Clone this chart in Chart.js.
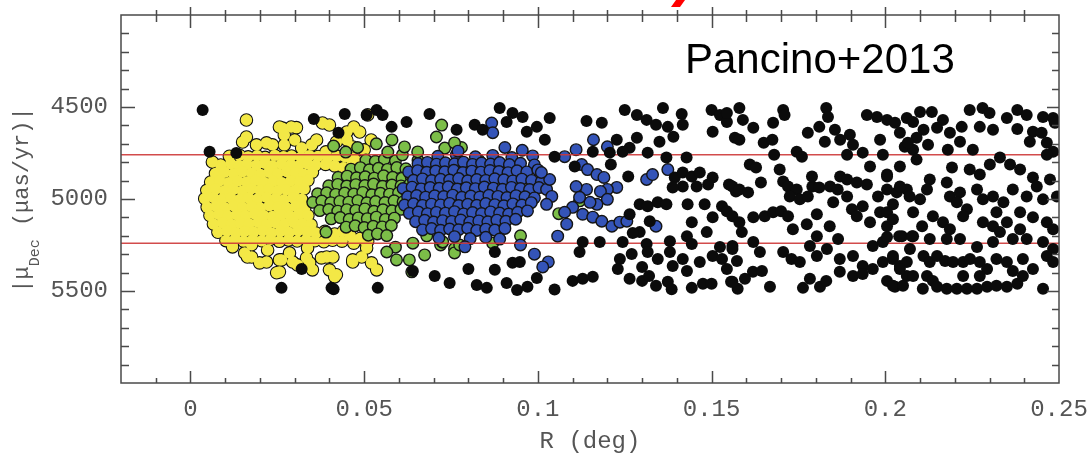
<!DOCTYPE html>
<html>
<head>
<meta charset="utf-8">
<script src="https://cdn.jsdelivr.net/npm/chart.js@4"></script>
<style>
  html, body { margin: 0; padding: 0; background: #fff; }
  #wrap { width: 1090px; height: 455px; position: relative; }
</style>
</head>
<body>
<div id="wrap"><canvas id="plot"></canvas></div>
<script>
// 軸の範囲と目盛り
const rRange = [-0.02, 0.25];
const muRange = [4000, 6000];
const rTicks = [0, 0.05, 0.1, 0.15, 0.2, 0.25];
const muTicks = [4500, 5000, 5500];
// 選択範囲の赤線
const cutLines = [4760, 5240];

// 黒: 視野全体の星 [R(deg), |mu_Dec| (mas/yr)]
const blackStars = [
  [0.0035,4516],[0.0055,4743],[0.0132,4750],[0.0355,4565],[0.0444,4538],[0.0426,4640],[0.0507,4543],
  [0.0536,4516],[0.0553,4543],[0.0579,4608],[0.0622,4581],[0.0688,4538],[0.0766,4624],[0.0818,4597],
  [0.0841,4624],[0.0890,4505],[0.0910,4581],[0.0927,4532],[0.0956,4554],[0.0968,4635],[0.0997,4608],
  [0.0262,5483],[0.0320,5380],[0.0406,5483],[0.0412,5490],[0.0539,5483],[0.0640,5391],[0.0703,5418],
  [0.0746,5456],[0.0824,5467],[0.0800,5380],[0.0853,5483],[0.0876,5385],[0.0876,5288],[0.0910,5456],
  [0.0927,5347],[0.0948,5342],[0.0940,5494],[0.0970,5477],[0.0997,5429],
  [0.1034,4560],[0.1140,4576],[0.1184,4586],[0.1250,4516],[0.1285,4543],[0.1313,4570],[0.1360,4505],
  [0.1340,4597],[0.1414,4538],[0.1417,4597],[0.1374,4608],[0.1500,4516],[0.1524,4543],[0.1544,4581],
  [0.1503,4635],[0.1567,4667],[0.1390,4662],[0.1350,4689],[0.1285,4667],[0.1227,4678],[0.1264,4721],
  [0.1244,4743],[0.1207,4748],[0.1158,4743],[0.1048,4770],[0.1316,4748],[0.1370,4775],[0.1428,4775],
  [0.1020,4678],[0.1260,4878],[0.1210,4813],[0.1106,4824],[0.1394,4883],[0.1417,4856],[0.1443,4878],
  [0.1466,4856],[0.1503,4883],[0.1490,4921],[0.1457,4932],[0.1417,4932],[0.1388,4937],[0.1550,4921],
  [0.1570,4959],[0.1293,5029],[0.1316,5040],[0.1345,5018],[0.1370,5029],[0.1431,5029],[0.1480,5029],
  [0.1503,5099],[0.1530,5040],[0.1544,5067],[0.1560,5094],[0.1264,5083],[0.1322,5121],[0.1443,5126],
  [0.1486,5180],[0.1429,5202],[0.1293,5180],[0.1273,5185],
  [0.1129,5234],[0.1178,5234],[0.1244,5234],[0.1313,5245],[0.1380,5229],[0.1443,5245],[0.1524,5261],
  [0.1560,5256],[0.1120,5288],[0.1236,5326],[0.1270,5299],[0.1316,5288],[0.1345,5326],[0.1380,5288],
  [0.1417,5326],[0.1466,5342],[0.1503,5310],[0.1530,5326],[0.1230,5380],[0.1300,5369],[0.1388,5364],
  [0.1429,5391],[0.1544,5380],[0.1100,5445],[0.1129,5434],[0.1158,5423],[0.1048,5492],[0.1264,5434],
  [0.1300,5445],[0.1320,5418],[0.1340,5472],[0.1374,5450],[0.1385,5490],[0.1443,5483],[0.1475,5461],
  [0.1500,5461],[0.1556,5450],[0.1575,5488],
  [0.1544,4532],[0.1580,4505],[0.1590,4570],[0.1580,4678],[0.1620,4613],[0.1650,4694],[0.1675,4678],
  [0.1677,4586],[0.1706,4516],[0.1710,4543],[0.1680,4759],[0.1745,4743],[0.1760,4770],[0.1777,4640],
  [0.1810,4608],[0.1830,4505],[0.1835,4554],[0.1826,4689],[0.1870,4678],[0.1855,4624],[0.1898,4651],
  [0.1907,4705],[0.1890,4759],[0.1947,4543],[0.1976,4554],[0.2005,4570],[0.2028,4586],[0.2062,4560],
  [0.2042,4640],[0.1985,4678],[0.1993,4759],[0.1935,4748],[0.2056,4716],[0.2080,4732],
  [0.1610,4813],[0.1628,4829],[0.1560,4932],[0.1580,4948],[0.1605,4964],[0.1642,4910],[0.1696,4840],
  [0.1706,4905],[0.1720,4932],[0.1745,4948],[0.1725,4986],[0.1754,5002],[0.1777,4986],[0.1790,4932],
  [0.1789,4878],[0.1810,4937],[0.1841,4932],[0.1870,4878],[0.1890,4894],[0.1918,4910],[0.1947,4921],
  [0.1863,4948],[0.1890,4986],[0.1850,5018],[0.1956,4824],[0.2005,4867],[0.2042,4824],[0.1979,4986],
  [0.2005,4948],[0.2033,4964],[0.2062,4948],[0.2022,5029],[0.1985,5072],[0.1935,5040],[0.1904,5056],
  [0.1918,5094],[0.1956,5126],[0.2005,5148],[0.2048,5202],[0.2080,5202],[0.1580,5126],[0.1587,5180],
  [0.1620,5099],[0.1653,5094],[0.1677,5072],[0.1700,5067],[0.1720,5094],[0.1734,5164],[0.1774,5137],
  [0.1803,5083],[0.1840,5148],[0.1864,5218],[0.1803,5202],
  [0.1560,5272],[0.1620,5234],[0.1639,5288],[0.1573,5337],[0.1706,5288],[0.1730,5326],[0.1754,5342],
  [0.1783,5256],[0.1803,5310],[0.1832,5272],[0.1619,5396],[0.1645,5391],[0.1596,5434],[0.1560,5450],
  [0.1668,5477],[0.1783,5434],[0.1763,5483],[0.1812,5477],[0.1830,5445],[0.1869,5326],[0.1907,5310],
  [0.1935,5364],[0.1869,5396],[0.1907,5418],[0.1935,5407],[0.1964,5380],[0.1993,5342],[0.2022,5326],
  [0.2042,5364],[0.2062,5418],[0.2005,5445],[0.2028,5477],[0.1964,5256],[0.1993,5234],[0.2071,5272],
  [0.2080,4581],[0.2100,4527],[0.2134,4527],[0.2166,4570],[0.2149,4613],[0.2110,4624],[0.2090,4667],
  [0.2065,4694],[0.2123,4705],[0.2186,4640],[0.2220,4608],[0.2243,4516],[0.2280,4505],[0.2300,4532],
  [0.2272,4608],[0.2310,4624],[0.2350,4560],[0.2380,4516],[0.2407,4543],[0.2454,4554],[0.2483,4560],
  [0.2488,4586],[0.2380,4619],[0.2425,4635],[0.2450,4640],[0.2416,4689],[0.2465,4694],[0.2483,4743],
  [0.2465,4759],[0.2215,4689],[0.2252,4732],[0.2180,4732],[0.2090,4786],[0.2192,4829],[0.2243,4840],
  [0.2301,4813],[0.2330,4775],[0.2359,4813],[0.2388,4840],[0.2425,4883],[0.2474,4894],[0.2494,4986],
  [0.2272,4867],[0.2128,4894],[0.2005,4878],[0.2042,4932],[0.2070,4986],[0.2100,5002],[0.2120,4948],
  [0.2177,4910],[0.2186,4986],[0.2215,4964],[0.2206,5018],[0.2235,5056],[0.2264,4948],[0.2281,5002],
  [0.2310,4986],[0.2340,5018],[0.2367,4948],[0.2407,4986],[0.2436,4932],[0.2454,5002],
  [0.2005,5072],[0.2022,5110],[0.2080,5072],[0.2137,5094],[0.2106,5148],[0.2166,5126],[0.2186,5164],
  [0.2224,5094],[0.2281,5126],[0.2310,5148],[0.2330,5180],[0.2350,5126],[0.2388,5164],[0.2425,5099],
  [0.2465,5126],[0.2483,5164],[0.2320,5072],[0.2388,5072],
  [0.2005,5207],[0.2040,5202],[0.2077,5202],[0.2128,5218],[0.2177,5218],[0.2215,5218],[0.2264,5261],
  [0.2310,5234],[0.2367,5218],[0.2407,5218],[0.2454,5234],[0.2483,5272],[0.2022,5310],[0.2062,5342],
  [0.2042,5380],[0.2080,5418],[0.2110,5310],[0.2128,5342],[0.2149,5310],[0.2172,5337],[0.2195,5342],
  [0.2224,5342],[0.2244,5326],[0.2272,5342],[0.2293,5380],[0.2320,5326],[0.2350,5342],[0.2367,5391],
  [0.2396,5326],[0.2425,5380],[0.2465,5310],[0.2483,5342],[0.2120,5418],[0.2137,5445],[0.2022,5472],
  [0.2051,5472],[0.2108,5488],[0.2149,5477],[0.2177,5488],[0.2206,5488],[0.2235,5488],[0.2264,5488],
  [0.2293,5477],[0.2320,5472],[0.2350,5477],[0.2380,5461],[0.2396,5418],[0.2454,5488],[0.2224,5418],
  [0.2272,5418]
];

// 黄: 中心部の星
const yellowStars = [
  [0.0112,4768],[0.0141,4762],[0.0166,4771],[0.0192,4765],[0.0215,4774],[0.0243,4763],[0.0268,4770],
  [0.0291,4766],[0.0318,4773],[0.0342,4764],[0.0367,4769],[0.0395,4776],[0.0421,4767],[0.0446,4772],
  [0.0087,4815],[0.0116,4808],[0.0139,4818],[0.0162,4811],[0.0190,4816],[0.0214,4806],[0.0236,4819],
  [0.0262,4810],[0.0289,4814],[0.0311,4821],[0.0337,4809],[0.0360,4816],[0.0389,4812],
  [0.0072,4861],[0.0098,4855],[0.0124,4863],[0.0150,4852],[0.0176,4860],[0.0201,4866],[0.0226,4855],
  [0.0251,4862],[0.0277,4851],[0.0302,4859],[0.0326,4865],[0.0351,4854],
  [0.0058,4908],[0.0084,4900],[0.0110,4911],[0.0136,4903],[0.0161,4907],[0.0187,4899],[0.0212,4910],
  [0.0238,4904],[0.0263,4912],[0.0289,4901],[0.0314,4908],[0.0338,4898],
  [0.0047,4953],[0.0073,4946],[0.0098,4955],[0.0123,4948],[0.0149,4957],[0.0175,4944],[0.0200,4952],
  [0.0226,4947],[0.0250,4956],[0.0276,4949],[0.0301,4953],[0.0327,4945],
  [0.0041,4998],[0.0066,4992],[0.0091,5001],[0.0116,4995],[0.0142,5003],[0.0167,4994],[0.0193,5000],
  [0.0219,4991],[0.0244,4999],[0.0269,5004],[0.0295,4993],[0.0320,5001],
  [0.0048,5045],[0.0074,5040],[0.0100,5048],[0.0125,5038],[0.0151,5046],[0.0176,5041],[0.0201,5049],
  [0.0227,5037],[0.0252,5044],[0.0278,5050],[0.0303,5039],[0.0329,5046],
  [0.0056,5090],[0.0082,5084],[0.0108,5093],[0.0133,5086],[0.0159,5091],[0.0184,5082],[0.0210,5089],
  [0.0236,5095],[0.0261,5085],[0.0287,5092],[0.0312,5083],[0.0338,5090],
  [0.0066,5136],[0.0092,5129],[0.0118,5138],[0.0143,5131],[0.0169,5135],[0.0195,5127],[0.0220,5139],
  [0.0246,5130],[0.0271,5136],[0.0297,5128],[0.0322,5134],[0.0347,5140],
  [0.0079,5181],[0.0105,5174],[0.0131,5183],[0.0156,5176],[0.0182,5180],[0.0208,5172],[0.0233,5184],
  [0.0259,5177],[0.0284,5182],[0.0310,5173],[0.0336,5179],[0.0361,5185],[0.0387,5176],
  [0.0102,5226],[0.0128,5220],[0.0153,5229],[0.0179,5222],[0.0205,5227],[0.0230,5219],[0.0256,5230],
  [0.0282,5223],[0.0307,5228],[0.0333,5221],[0.0358,5227],[0.0384,5232],[0.0409,5224],[0.0436,5229],
  [0.0470,4780],[0.0495,4795],[0.0415,4820],[0.0440,4830],[0.0465,4815],[0.0460,5200],[0.0488,5215],
  [0.0415,5190],[0.0440,5175],[0.0470,5240],[0.0510,5230],
  [0.0161,4571],[0.0150,4690],[0.0190,4706],[0.0219,4695],[0.0256,4609],[0.0270,4652],[0.0300,4679],
  [0.0290,4609],[0.0236,4706],[0.0270,4706],[0.0320,4723],[0.0349,4706],[0.0363,4679],[0.0380,4587],
  [0.0400,4598],[0.0420,4690],[0.0450,4679],[0.0470,4609],[0.0487,4636],[0.0467,4717],[0.0500,4733],
  [0.0063,4799],[0.0390,4744],[0.0161,4663],[0.0265,4615],[0.0305,4612],[0.0510,4543],[0.0450,4636],
  [0.0520,4679],
  [0.0121,5260],[0.0156,5293],[0.0176,5315],[0.0199,5347],[0.0222,5277],[0.0256,5331],[0.0256,5396],
  [0.0285,5293],[0.0308,5358],[0.0334,5320],[0.0351,5385],[0.0392,5315],[0.0420,5412],[0.0400,5385],
  [0.0467,5342],[0.0493,5315],[0.0521,5347],[0.0507,5266],[0.0176,5249],[0.0337,5266],[0.0164,5315],
  [0.0219,5342],[0.0262,5331],[0.0294,5342],[0.0343,5347],[0.0377,5320],[0.0415,5423],[0.0410,5315],
  [0.0467,5331],[0.0536,5385],[0.0507,5239],[0.0248,5401]
];

// 緑: 中間の星
const greenStars = [
  [0.0505,4788],[0.0532,4795],[0.0558,4784],[0.0590,4792],
  [0.0462,4838],[0.0489,4830],[0.0515,4841],[0.0541,4833],[0.0567,4839],[0.0594,4829],[0.0620,4836],
  [0.0425,4883],[0.0451,4876],[0.0478,4885],[0.0503,4879],[0.0529,4887],[0.0556,4874],[0.0582,4882],
  [0.0609,4888],[0.0635,4877],
  [0.0398,4928],[0.0424,4921],[0.0450,4930],[0.0476,4922],[0.0502,4927],[0.0527,4919],[0.0553,4931],
  [0.0580,4924],[0.0606,4929],[0.0631,4920],
  [0.0366,4972],[0.0392,4966],[0.0418,4975],[0.0444,4968],[0.0470,4973],[0.0496,4964],[0.0522,4977],
  [0.0547,4969],[0.0573,4974],[0.0599,4966],[0.0625,4971],
  [0.0352,5018],[0.0378,5011],[0.0404,5020],[0.0430,5013],[0.0456,5017],[0.0482,5009],[0.0508,5021],
  [0.0533,5014],[0.0560,5019],[0.0586,5010],[0.0612,5016],
  [0.0372,5063],[0.0398,5057],[0.0424,5066],[0.0450,5058],[0.0476,5062],[0.0502,5054],[0.0528,5067],
  [0.0554,5059],[0.0580,5064],[0.0606,5056],
  [0.0405,5108],[0.0431,5101],[0.0457,5110],[0.0483,5103],[0.0509,5107],[0.0535,5099],[0.0561,5111],
  [0.0587,5104],
  [0.0448,5153],[0.0474,5146],[0.0500,5155],[0.0526,5148],[0.0552,5152],[0.0578,5144],
  [0.0512,5197],[0.0538,5190],[0.0565,5199],
  [0.0412,4712],[0.0447,4745],[0.0481,4720],[0.0535,4700],[0.0568,4745],[0.0610,4760],[0.0655,4790],
  [0.0700,4830],[0.0680,5200],[0.0640,5240],[0.0590,5262],[0.0720,5250],[0.0760,5270],[0.0390,5180],
  [0.0830,4790],[0.0870,5240],[0.0950,5200],[0.1120,5010],[0.1060,5080],[0.0780,4720],[0.0725,5235],
  [0.0580,4679],[0.0616,4717],[0.0654,4744],[0.0723,4598],[0.0708,4663],[0.0732,4723],[0.0760,4695],
  [0.0565,5288],[0.0593,5331],[0.0630,5331],[0.0674,5304],[0.0726,5233],[0.0760,5293],[0.0775,5250],
  [0.0637,5396]
];

// 青: 外側の星
const blueStars = [
  [0.0712,4768],[0.0765,4760],[0.0820,4771],[0.0870,4763],[0.0925,4775],[0.0985,4766],
  [0.0655,4808],[0.0682,4801],[0.0708,4811],[0.0734,4803],[0.0760,4809],[0.0786,4800],[0.0812,4812],
  [0.0838,4805],[0.0864,4810],[0.0890,4802],[0.0918,4813],[0.0950,4806],[0.0990,4815],
  [0.0628,4853],[0.0654,4846],[0.0680,4855],[0.0706,4848],[0.0732,4852],[0.0758,4844],[0.0784,4856],
  [0.0810,4849],[0.0836,4854],[0.0862,4845],[0.0888,4851],[0.0914,4857],[0.0940,4847],[0.0968,4853],
  [0.1000,4842],
  [0.0642,4898],[0.0668,4891],[0.0694,4900],[0.0720,4893],[0.0746,4897],[0.0772,4889],[0.0798,4901],
  [0.0824,4894],[0.0850,4899],[0.0876,4890],[0.0902,4896],[0.0928,4902],[0.0954,4892],[0.0982,4899],
  [0.1010,4905],
  [0.0612,4943],[0.0638,4936],[0.0664,4945],[0.0690,4938],[0.0716,4942],[0.0742,4934],[0.0768,4946],
  [0.0794,4939],[0.0820,4944],[0.0846,4935],[0.0872,4941],[0.0898,4947],[0.0924,4937],[0.0950,4943],
  [0.0976,4949],[0.1003,4938],
  [0.0625,4988],[0.0651,4981],[0.0677,4990],[0.0703,4983],[0.0729,4987],[0.0755,4979],[0.0781,4991],
  [0.0807,4984],[0.0833,4989],[0.0859,4980],[0.0885,4986],[0.0911,4992],[0.0937,4982],[0.0963,4988],
  [0.0990,4994],
  [0.0616,5033],[0.0642,5026],[0.0668,5035],[0.0694,5028],[0.0720,5032],[0.0746,5024],[0.0772,5036],
  [0.0798,5029],[0.0824,5034],[0.0850,5025],[0.0876,5031],[0.0902,5037],[0.0928,5027],[0.0954,5033],
  [0.0981,5020],
  [0.0630,5078],[0.0656,5071],[0.0682,5080],[0.0708,5073],[0.0734,5077],[0.0760,5069],[0.0786,5081],
  [0.0812,5074],[0.0838,5079],[0.0864,5070],[0.0890,5076],[0.0916,5082],[0.0942,5072],[0.0970,5065],
  [0.0648,5123],[0.0674,5116],[0.0700,5125],[0.0726,5118],[0.0752,5122],[0.0778,5114],[0.0804,5126],
  [0.0830,5119],[0.0856,5124],[0.0882,5115],[0.0908,5121],[0.0936,5110],
  [0.0668,5168],[0.0694,5161],[0.0720,5170],[0.0746,5163],[0.0772,5167],[0.0798,5159],[0.0824,5171],
  [0.0850,5164],[0.0876,5169],[0.0905,5160],
  [0.0715,5212],[0.0760,5205],[0.0805,5215],[0.0850,5208],[0.0890,5218],
  [0.1110,4732],[0.1160,4678],[0.1200,4716],[0.1077,4770],[0.1126,4813],[0.1143,4840],[0.1170,4867],
  [0.1190,4883],[0.1227,4937],[0.1200,4948],[0.1180,4959],[0.1140,4948],[0.1110,4932],[0.1200,5002],
  [0.1170,5029],[0.1150,5018],[0.1120,4991],[0.1100,5045],[0.1077,5072],[0.1129,5083],[0.1158,5099],
  [0.1184,5121],[0.1213,5148],[0.1236,5126],[0.1256,5121],[0.1083,5137],[0.1057,5202],[0.1313,4894],
  [0.1330,4867],[0.1374,4840],[0.1340,5148],[0.1025,4948],[0.1034,4894],[0.1040,4986],[0.1025,5029],
  [0.1010,4856],[0.1030,5342],[0.1014,5369],
  [0.0867,4587],[0.0870,4640],[0.0770,4740],[0.0905,4720],[0.0955,4735],[0.0790,5260],[0.0950,5250],
  [0.0990,5300]
];

const axisGrey = '#555555';
const tickFont = { family: 'Liberation Mono', size: 24 };

function toXY(list) {
    return list.map(p => ({ x: p[0], y: p[1] }));
}

// 枠線つきの星
function outlinedStars(list, color, order) {
    return {
        data: toXY(list), order: order, clip: 0,
        pointRadius: 5.8, pointBackgroundColor: color,
        pointBorderColor: '#151515', pointBorderWidth: 1.4
    };
}

// 枠線をつけた層と塗りだけの層を重ねる(内側の枠線を消すため)
function mergedStars(list, color, order) {
    return [
        {
            data: toXY(list), order: order + 1, clip: 0,
            pointRadius: 6.0, pointBackgroundColor: color,
            pointBorderColor: '#111', pointBorderWidth: 1.6
        },
        {
            data: toXY(list), order: order, clip: 0,
            pointRadius: 5.7, pointBackgroundColor: color,
            pointBorderWidth: 0
        }
    ];
}

function cutLine(value) {
    return {
        type: 'line',
        data: [{ x: rRange[0], y: value }, { x: rRange[1], y: value }],
        borderColor: 'rgba(205, 55, 55, 0.9)',
        borderWidth: 1.5,
        pointRadius: 0,
        order: 1
    };
}

// 枠・内向きの目盛り・軸タイトル・注記
const framePlugin = {
    id: 'frame',
    afterDraw(chart) {
        const ctx = chart.ctx;
        const a = chart.chartArea;
        const xs = chart.scales.x;
        const ys = chart.scales.y;
        ctx.save();
        ctx.strokeStyle = '#4a4a4a';
        ctx.lineWidth = 1.5;
        ctx.strokeRect(a.left, a.top, a.right - a.left, a.bottom - a.top);

        ctx.beginPath();
        for (let k = -1; k <= 24; k++) {
            const v = k / 100;
            const px = Math.round(xs.getPixelForValue(v)) + 0.5;
            const major = k % 5 === 0;
            ctx.moveTo(px, a.bottom);
            ctx.lineTo(px, a.bottom - (major ? 12 : 5));
            ctx.moveTo(px, a.top - (major ? 8 : 5));
            ctx.lineTo(px, a.top + (major ? 13 : 7));
        }
        for (let k = 41; k <= 59; k++) {
            const v = k * 100;
            const py = Math.round(ys.getPixelForValue(v)) + 0.5;
            const major = k % 5 === 0;
            ctx.moveTo(a.left, py);
            ctx.lineTo(a.left + (major ? 14 : 8), py);
            ctx.moveTo(a.right, py);
            ctx.lineTo(a.right - (major ? 12 : 7), py);
        }
        ctx.stroke();

        // x軸タイトル
        ctx.fillStyle = axisGrey;
        ctx.font = '24px "Liberation Mono"';
        ctx.textAlign = 'center';
        ctx.textBaseline = 'alphabetic';
        ctx.fillText('R (deg)', (a.left + a.right) / 2, 448);

        // y軸タイトル (回転)
        ctx.save();
        ctx.translate(28, 200);
        ctx.rotate(-Math.PI / 2);
        ctx.textAlign = 'left';
        const parts = [
            ['|\u03bc', '22px "Liberation Mono"', 0],
            ['Dec', '15px "Liberation Mono"', 11],
            [' (\u03bcas/yr)|', '22px "Liberation Mono"', 0]
        ];
        let w = 0;
        parts.forEach(p => { ctx.font = p[1]; w += ctx.measureText(p[0]).width; });
        let x = -w / 2;
        parts.forEach(p => {
            ctx.font = p[1];
            ctx.fillText(p[0], x, p[2]);
            x += ctx.measureText(p[0]).width;
        });
        ctx.restore();

        // 注記
        ctx.fillStyle = '#000';
        ctx.font = '42px "Liberation Sans"';
        ctx.textAlign = 'left';
        ctx.fillText('Pancino+2013', 685, 73);

        // 上端に切れた赤い文字の一部
        ctx.fillStyle = '#ff0000';
        ctx.beginPath();
        ctx.moveTo(676, 0);
        ctx.lineTo(685, 0);
        ctx.lineTo(680, 7);
        ctx.lineTo(671, 7);
        ctx.closePath();
        ctx.fill();
        ctx.restore();
    }
};

const datasets = [].concat(
    mergedStars(yellowStars, 'rgb(243, 232, 70)', 7),
    [outlinedStars(greenStars, 'rgb(124, 190, 72)', 5)],
    [outlinedStars(blueStars, 'rgb(52, 84, 184)', 3)],
    [cutLine(cutLines[0]), cutLine(cutLines[1])],
    [{
        data: toXY(blackStars), order: 0, clip: 0,
        pointRadius: 6, pointBackgroundColor: '#0b0b0b', pointBorderWidth: 0
    }]
);

new Chart(document.getElementById('plot'), {
    type: 'scatter',
    data: { datasets: datasets },
    options: {
        responsive: true,
        maintainAspectRatio: false,
        animation: false,
        events: [],
        layout: { padding: { top: 15, right: 31, left: 0, bottom: 0 } },
        plugins: { legend: { display: false }, tooltip: { enabled: false } },
        scales: {
            x: {
                type: 'linear',
                min: rRange[0],
                max: rRange[1],
                grid: { display: false, drawTicks: false },
                border: { display: false },
                afterBuildTicks: s => { s.ticks = rTicks.map(v => ({ value: v })); },
                afterFit: s => { s.height = 72; s.paddingLeft = 0; s.paddingRight = 0; },
                ticks: {
                    padding: 12,
                    color: axisGrey,
                    font: tickFont,
                    maxRotation: 0,
                    callback: v => String(v)
                }
            },
            y: {
                type: 'linear',
                reverse: true,
                min: muRange[0],
                max: muRange[1],
                grid: { display: false, drawTicks: false },
                border: { display: false },
                afterBuildTicks: s => { s.ticks = muTicks.map(v => ({ value: v })); },
                afterFit: s => { s.width = 121; s.paddingTop = 0; s.paddingBottom = 0; },
                ticks: {
                    padding: 13,
                    color: axisGrey,
                    font: tickFont,
                    callback: v => String(v)
                }
            }
        }
    },
    plugins: [framePlugin]
});
</script>
</body>
</html>
